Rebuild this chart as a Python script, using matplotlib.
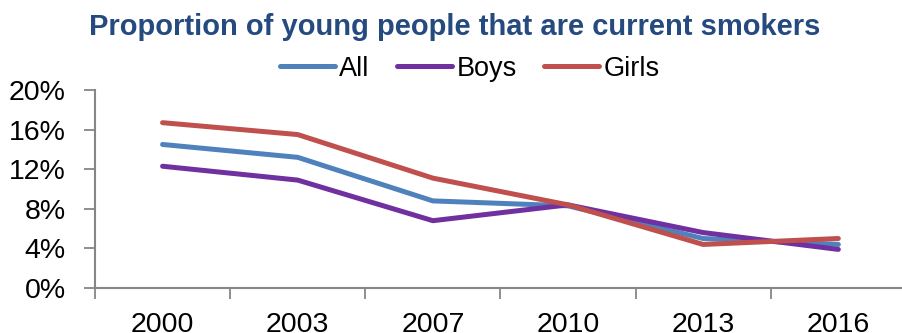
import matplotlib.pyplot as plt
from matplotlib.ticker import FixedLocator, PercentFormatter

plt.rcParams["font.family"] = ["Liberation Sans", "DejaVu Sans"]

years = ["2000", "2003", "2007", "2010", "2013", "2016"]
all_pct = [14.5, 13.2, 8.8, 8.3, 5.0, 4.4]
boys_pct = [12.3, 10.9, 6.8, 8.4, 5.6, 3.9]
girls_pct = [16.7, 15.5, 11.1, 8.4, 4.4, 5.0]

AXIS = "#868686"

fig = plt.figure(figsize=(9.03, 3.33), dpi=100)
ax = fig.add_axes([0.1052, 0.1351, 0.898, 0.5946])

x = range(len(years))
ax.plot(x, all_pct, color="#4F81BD", lw=3.6, label="All", solid_capstyle="round")
ax.plot(x, boys_pct, color="#7030A0", lw=3.6, label="Boys", solid_capstyle="round")
ax.plot(x, girls_pct, color="#C0504D", lw=3.6, label="Girls", solid_capstyle="round")

ax.set_xlim(-0.5, len(years) - 0.5)
ax.set_ylim(0, 20)
ax.set_yticks([0, 4, 8, 12, 16, 20])
ax.yaxis.set_major_formatter(PercentFormatter(decimals=0))

# category boundaries get tick marks, labels sit at the centres
ax.xaxis.set_major_locator(FixedLocator([i - 0.5 for i in range(len(years) + 1)]))
ax.xaxis.set_minor_locator(FixedLocator(list(x)))
ax.set_xticklabels([], minor=False)
ax.set_xticklabels(years, minor=True)
ax.tick_params(axis="x", which="minor", length=0, pad=17, labelsize=20.5)
ax.tick_params(axis="x", which="major", length=8, width=1.3, color=AXIS, direction="out")
ax.tick_params(axis="y", length=8, width=1.3, color=AXIS, pad=13, labelsize=20.5)

for side in ("top", "right"):
    ax.spines[side].set_visible(False)
for side in ("left", "bottom"):
    ax.spines[side].set_color(AXIS)
    ax.spines[side].set_linewidth(1.5)

fig.text(0.503, 0.918, "Proportion of young people that are current smokers",
         ha="center", va="center", fontsize=21, fontweight="bold", color="#254A7F")

fig.legend(loc="center", bbox_to_anchor=(0.52, 0.793), ncol=3, frameon=False,
           fontsize=19.5, handlelength=2.05, handletextpad=0.15, columnspacing=1.0)

fig.savefig("out.png", dpi=100)
